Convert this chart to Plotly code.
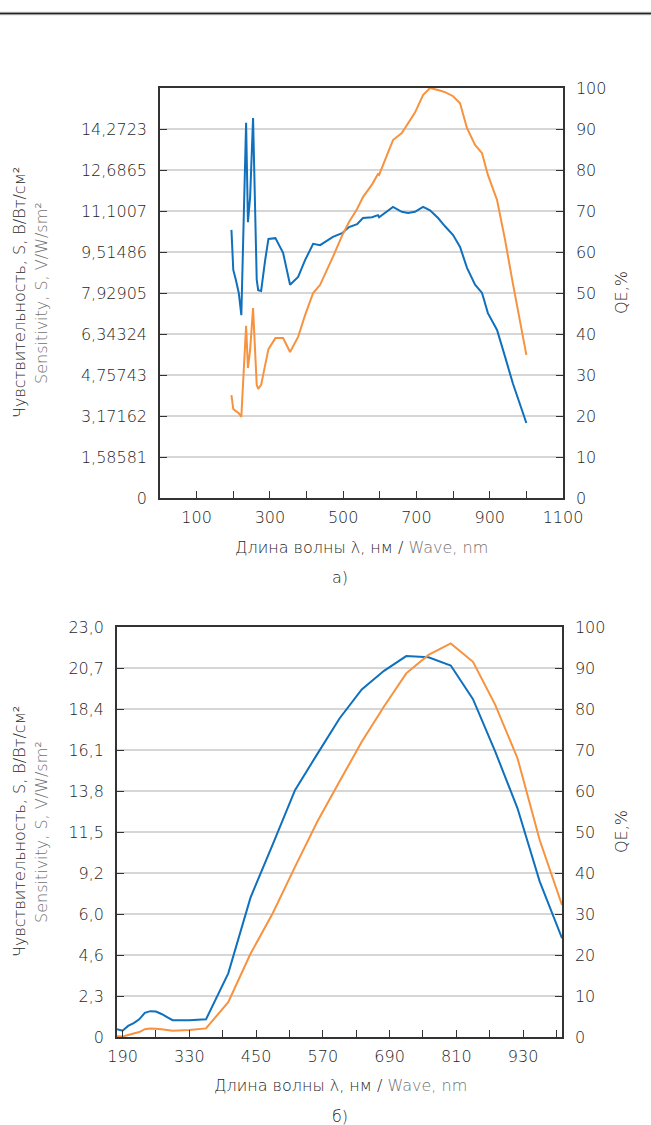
import plotly.graph_objects as go

# ---------------- data: panel а) ----------------
a_wavelength = [195, 200, 207, 215, 222, 235, 240, 246, 254, 264, 268, 276, 287, 296,
                315, 336, 355, 377, 396, 418, 437, 456, 472, 497, 516, 538, 554, 579,
                595, 598, 617, 636, 660, 677, 696, 718, 737, 759, 778, 800, 819, 838,
                860, 879, 895, 920, 942, 963, 1000]
a_sensitivity = [10.37, 8.82, 8.44, 7.93, 7.07, 14.51, 10.67, 11.64, 14.70, 8.44, 8.04, 8.01,
                 9.20, 10.02, 10.05, 9.48, 8.25, 8.55, 9.20, 9.83, 9.78, 9.97, 10.10, 10.24,
                 10.48, 10.59, 10.83, 10.86, 10.94, 10.86, 11.07, 11.26, 11.07, 11.02, 11.07,
                 11.26, 11.13, 10.83, 10.51, 10.17, 9.71, 8.90, 8.25, 7.93, 7.15, 6.50, 5.46,
                 4.44, 2.90]
a_qe = [25.1, 21.7, 21.2, 20.7, 19.8, 42.0, 31.7, 36.1, 46.3, 27.6, 26.6, 27.6, 32.4, 36.3,
        39.0, 39.0, 35.6, 39.3, 44.6, 50.0, 52.0, 55.5, 58.8, 64.0, 67.3, 70.5, 73.4, 76.5,
        79.0, 78.8, 83.3, 87.3, 89.0, 91.5, 94.0, 98.3, 100.0, 99.5, 99.0, 98.0, 96.3, 90.2,
        86.1, 84.1, 78.8, 72.7, 62.9, 52.4, 34.9]
a_s_ticks = [0, 1.58581, 3.17162, 4.75743, 6.34324, 7.92905, 9.51486, 11.1007, 12.6865, 14.2723]
a_s_ticktext = ["0", "1,58581", "3,17162", "4,75743", "6,34324", "7,92905", "9,51486",
                "11,1007", "12,6865", "14,2723"]
a_s_max = 15.8581
a_x_ticks = [100, 200, 300, 400, 500, 600, 700, 800, 900, 1000, 1100]
a_x_ticktext = ["100", "", "300", "", "500", "", "700", "", "900", "", "1100"]

# ---------------- data: panel б) ----------------
b_wavelength = [200, 210, 220, 230, 240, 250, 260, 270, 280, 300, 330, 360, 400, 440, 480,
                520, 560, 600, 640, 680, 720, 760, 800, 840, 880, 920, 960, 1000]
b_sensitivity = [0.44, 0.35, 0.62, 0.78, 0.99, 1.36, 1.45, 1.43, 1.29, 0.94, 0.94, 0.99,
                 3.57, 7.82, 10.81, 13.85, 15.87, 17.87, 19.50, 20.54, 21.37, 21.30, 20.84,
                 18.95, 16.01, 12.83, 8.72, 5.54]
b_qe = [0.2, 0.1, 0.5, 0.8, 1.2, 1.9, 2.1, 2.0, 1.9, 1.5, 1.7, 2.1, 8.5, 20.3, 30.2, 41.5,
        52.5, 62.3, 72.0, 80.6, 88.7, 93.2, 96.0, 91.5, 81.0, 68.0, 48.0, 32.2]
b_s_ticks = [0, 2.3, 4.6, 6.9, 9.2, 11.5, 13.8, 16.1, 18.4, 20.7, 23.0]
b_s_ticktext = ["0", "2,3", "4,6", "6,0", "9,2", "11,5", "13,8", "16,1", "18,4", "20,7", "23,0"]
b_x_ticks = [210, 270, 330, 390, 450, 510, 570, 630, 690, 750, 810, 870, 930, 990]
b_x_ticktext = ["190", "", "330", "", "450", "", "570", "", "690", "", "810", "", "930", ""]

qe_ticks = list(range(0, 101, 10))

# ---------------- style ----------------
W, H = 651, 1125
BLUE = "#0f70bd"
ORANGE = "#f7923f"
DARK = "#1f1f1f"
GRAY = "#727272"
GRID = "#d6d6d6"
FONT = "DejaVu Sans"
FS = 16
WEIGHT = 200


def px(x):
    return x / W


def py(y):
    return 1 - y / H


def fnt(color=DARK, size=FS):
    return dict(family=FONT, size=size, color=color, weight=WEIGHT)


fig = go.Figure()
fig.add_trace(go.Scatter(x=a_wavelength, y=a_sensitivity, xaxis="x", yaxis="y",
                         mode="lines", line=dict(color=BLUE, width=2), name="S"))
fig.add_trace(go.Scatter(x=a_wavelength, y=a_qe, xaxis="x", yaxis="y2",
                         mode="lines", line=dict(color=ORANGE, width=2), name="QE"))
fig.add_trace(go.Scatter(x=b_wavelength, y=b_sensitivity, xaxis="x2", yaxis="y3",
                         mode="lines", line=dict(color=BLUE, width=2), name="S"))
fig.add_trace(go.Scatter(x=b_wavelength, y=b_qe, xaxis="x2", yaxis="y4",
                         mode="lines", line=dict(color=ORANGE, width=2), name="QE"))

axis_common = dict(showline=True, linecolor="#333333", linewidth=1.5, ticks="inside",
                   ticklen=7, tickcolor="#333333", tickwidth=1.3, zeroline=False,
                   automargin=False, tickfont=fnt(), fixedrange=True)

top_dom_x = [px(160), px(563)]
top_dom_y = [py(498), py(88)]
bot_dom_x = [px(117), px(562)]
bot_dom_y = [py(1037), py(627)]

fig.update_layout(
    template="none",
    width=W, height=H, showlegend=False, autosize=False,
    margin=dict(l=0, r=0, t=0, b=0, pad=0, autoexpand=False),
    paper_bgcolor="white", plot_bgcolor="white",
    font=fnt(),
    xaxis=dict(domain=top_dom_x, anchor="y", range=[0, 1100], tickvals=a_x_ticks,
               ticktext=a_x_ticktext, mirror=True, showgrid=False,
               ticklabelstandoff=4, **axis_common),
    yaxis=dict(domain=top_dom_y, anchor="x", range=[0, a_s_max], tickvals=a_s_ticks,
               ticktext=a_s_ticktext, showgrid=True, gridcolor=GRID, gridwidth=1.5,
               ticklabelstandoff=8, **axis_common),
    yaxis2=dict(overlaying="y", side="right", anchor="x", range=[0, 100],
                tickvals=qe_ticks, showgrid=False, ticklabelstandoff=8, **axis_common),
    xaxis2=dict(domain=bot_dom_x, anchor="y3", range=[200, 1000], tickvals=b_x_ticks,
                ticktext=b_x_ticktext, mirror=True, showgrid=False,
                ticklabelstandoff=4, **axis_common),
    yaxis3=dict(domain=bot_dom_y, anchor="x2", range=[0, 23], tickvals=b_s_ticks,
                ticktext=b_s_ticktext, showgrid=True, gridcolor=GRID, gridwidth=1.5,
                ticklabelstandoff=8, **axis_common),
    yaxis4=dict(overlaying="y3", side="right", anchor="x2", range=[0, 100],
                tickvals=qe_ticks, showgrid=False, ticklabelstandoff=8, **axis_common),
)

# top rule
fig.add_shape(type="rect", xref="paper", yref="paper", x0=0, x1=1, y0=py(15.3), y1=py(11.8),
              fillcolor="#c4c4c4", line=dict(width=0), layer="above")
fig.add_shape(type="line", xref="paper", yref="paper", x0=0, x1=1, y0=py(13.5), y1=py(13.5),
              line=dict(color="#222222", width=1.6), layer="above")

title_ru = "Чувствительность, S, В/Вт/см²"
title_en = "Sensitivity, S, V/W/sm²"
xtitle = "Длина волны λ, нм / <span style='color:%s'>Wave, nm</span>" % GRAY


def ann(x, y, text, color=DARK, angle=0, size=FS, yanchor="middle"):
    fig.add_annotation(xref="paper", yref="paper", x=px(x), y=py(y), text=text,
                       showarrow=False, textangle=angle, xanchor="center", yanchor=yanchor,
                       font=fnt(color, size), borderpad=0)


for cy in (293, 832):
    ann(19, cy, title_ru, DARK, -90)
    ann(41, cy, title_en, GRAY, -90)
    ann(621, cy, "QE,%", DARK, -90)

ann(361, 547, xtitle)
ann(340, 577, "а)")
ann(340, 1085, xtitle)
ann(340, 1116, "б)")

post = ("var s=document.createElement('style');"
        "s.textContent='html,body{margin:0!important;padding:0!important;overflow:hidden!important;}';"
        "document.head.appendChild(s);")
fig.write_html("out.html", post_script=post,
               config={"responsive": False, "displayModeBar": False})
